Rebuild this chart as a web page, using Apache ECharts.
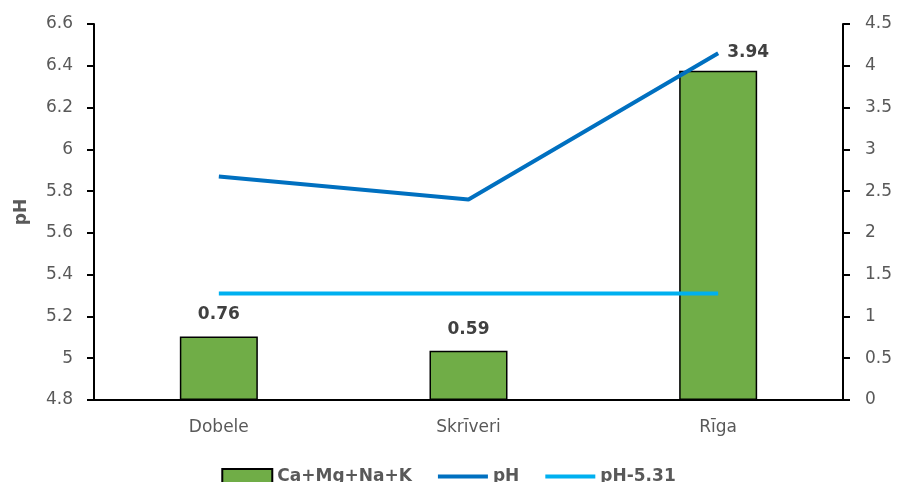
<!DOCTYPE html>
<html><head><meta charset="utf-8">
<script src="https://cdn.jsdelivr.net/npm/echarts@6/dist/echarts.min.js"></script>
<style>html,body{margin:0;padding:0;background:#fff}#c{width:897px;height:482px}</style>
</head><body><div id="c"></div>
<script>
const categories = ['Dobele', 'Skrīveri', 'Rīga'];
const cations = [0.76, 0.59, 3.94];
const ph = [5.87, 5.76, 6.46];
const ph531 = [5.31, 5.31, 5.31];
const leftTicks = {min: 4.8, max: 6.6, interval: 0.2};
const rightTicks = {min: 0, max: 4.5, interval: 0.5};

const FONT = 'DejaVu Sans';
const LINE_ICON = 'path://M0,0 H50 V4 H0 Z';
const labelOffsets = [[0, 0], [0, 0], [30, 3]];
const barData = cations.map((v, i) => ({value: v, label: {offset: labelOffsets[i]}}));
const chart = echarts.init(document.getElementById('c'), null, {renderer: 'canvas'});
chart.setOption({
  animation: false,
  textStyle: {fontFamily: FONT},
  grid: {left: 94, right: 54, top: 24, bottom: 82},
  legend: {
    top: 463, left: 'center', itemGap: 26, itemWidth: 50, itemHeight: 15,
    symbolKeepAspect: true,
    textStyle: {fontFamily: FONT, fontSize: 17, fontWeight: 'bold', color: '#595959'},
    data: [
      {name: 'Ca+Mg+Na+K', icon: 'rect', itemStyle: {color: '#70AD47', borderColor: '#000', borderWidth: 2}},
      {name: 'pH', icon: LINE_ICON, itemStyle: {color: '#0070C0', borderWidth: 0}},
      {name: 'pH-5.31', icon: LINE_ICON, itemStyle: {color: '#00B0F0', borderWidth: 0}}
    ]
  },
  xAxis: {
    type: 'category', data: categories,
    axisLine: {lineStyle: {color: '#000', width: 2}},
    axisTick: {show: false},
    axisLabel: {color: '#595959', fontSize: 17, margin: 19, fontFamily: FONT}
  },
  yAxis: [
    {
      type: 'value', min: leftTicks.min, max: leftTicks.max, interval: leftTicks.interval,
      name: 'pH', nameLocation: 'middle', nameGap: 64, nameRotate: 90,
      nameTextStyle: {fontWeight: 'bold', fontSize: 17, color: '#595959'},
      axisLine: {show: true, lineStyle: {color: '#000', width: 2}},
      axisTick: {show: true, length: 7, lineStyle: {color: '#000', width: 2}},
      splitLine: {show: false},
      axisLabel: {color: '#595959', fontSize: 17, margin: 21,
        formatter: v => String(Math.round(v * 10) / 10)}
    },
    {
      type: 'value', min: rightTicks.min, max: rightTicks.max, interval: rightTicks.interval,
      position: 'right',
      axisLine: {show: true, lineStyle: {color: '#000', width: 2}},
      axisTick: {show: true, length: 7, lineStyle: {color: '#000', width: 2}},
      splitLine: {show: false},
      axisLabel: {color: '#595959', fontSize: 17, margin: 22,
        formatter: v => String(Math.round(v * 10) / 10)}
    }
  ],
  series: [
    {
      name: 'Ca+Mg+Na+K', type: 'bar', yAxisIndex: 1, data: barData, barWidth: 78,
      itemStyle: {color: '#70AD47', borderColor: '#000', borderWidth: 1.5},
      label: {show: true, position: 'top', distance: 13, fontWeight: 'bold', fontSize: 17,
        color: '#404040', formatter: p => p.value.toFixed(2)},
      z: 1
    },
    {
      name: 'pH', type: 'line', yAxisIndex: 0, data: ph, symbol: 'none',
      lineStyle: {color: '#0070C0', width: 4}, itemStyle: {color: '#0070C0'}, z: 3
    },
    {
      name: 'pH-5.31', type: 'line', yAxisIndex: 0, data: ph531, symbol: 'none',
      lineStyle: {color: '#00B0F0', width: 4}, itemStyle: {color: '#00B0F0'}, z: 3
    }
  ]
});
</script></body></html>
